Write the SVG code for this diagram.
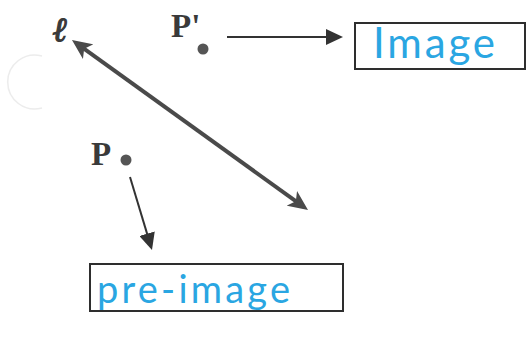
<svg xmlns="http://www.w3.org/2000/svg" width="526" height="339" viewBox="0 0 526 339">
<style>
.lbl{font-family:"Liberation Serif","Times New Roman",serif;font-weight:bold;font-size:33px;fill:#3a3a3a}
.ell{font-family:"DejaVu Serif",serif;font-weight:bold;font-style:italic;font-size:34px;fill:#3a3a3a;stroke:#3a3a3a;stroke-width:1.2}
.hand{font-family:Lato,"Open Sans",sans-serif;fill:#2aa6e2}
.box{fill:#ffffff;stroke:#2e2e2e;stroke-width:2}
.thin{stroke:#333333;stroke-width:2;fill:none}
.thick{stroke:#4a4a4a;stroke-width:4;fill:none}
.dot{fill:#555555}
</style>
<defs>
<marker id="ah" viewBox="0 0 17 16" refX="7" refY="8" markerWidth="17" markerHeight="16" markerUnits="userSpaceOnUse" orient="auto">
<path d="M0,0 L17,8 L0,16 z" fill="#333333"/>
</marker>
<marker id="ahT" viewBox="0 0 20 18" refX="10" refY="9" markerWidth="20" markerHeight="18" markerUnits="userSpaceOnUse" orient="auto-start-reverse">
<path d="M0,0 L20,9 L0,18 L5,9 z" fill="#4a4a4a"/>
</marker>
</defs>
<rect width="526" height="339" fill="#ffffff"/>
<path d="M42,56 A27,27 0 1 0 42,108" fill="none" stroke="#ececec" stroke-width="1.5"/>
<g id="line-l">
<text class="ell" x="53" y="41">ℓ</text>
</g>
<g id="P-prime">
<text class="lbl" x="171" y="37">P'</text>
<circle class="dot" cx="203" cy="49" r="5.5"/>
</g>
<g id="P">
<text class="lbl" x="91" y="165">P</text>
<circle class="dot" cx="126" cy="160" r="5.5"/>
</g>
<g id="image">
<rect class="box" x="355" y="23" width="170" height="46"/>
<text class="hand" x="373" y="58" font-size="42" textLength="122" lengthAdjust="spacing">Image</text>
</g>
<g id="pre-image">
<rect class="box" x="90" y="264" width="253" height="47"/>
<text class="hand" x="97" y="303" font-size="38" textLength="193" lengthAdjust="spacing">pre-image</text>
</g>
<g id="connectors">
<line class="thick" x1="80.1" y1="45.8" x2="299.9" y2="204.2" marker-start="url(#ahT)" marker-end="url(#ahT)"/>
<line class="thin" x1="227" y1="37" x2="333" y2="37" marker-end="url(#ah)"/>
<line class="thin" x1="130" y1="177" x2="149.1" y2="240.4" marker-end="url(#ah)"/>
</g>
</svg>
